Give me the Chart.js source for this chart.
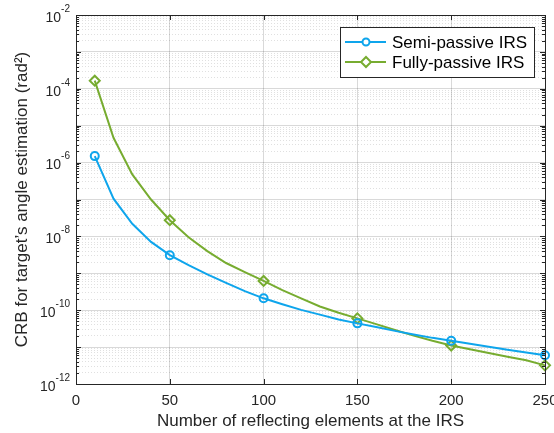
<!DOCTYPE html>
<html>
<head>
<meta charset="utf-8">
<script src="https://cdn.jsdelivr.net/npm/chart.js@4"></script>
<style>
  html, body { margin: 0; padding: 0; background: #fff; }
  #wrap { width: 554px; height: 433px; }
</style>
</head>
<body>
<div id="wrap"><canvas id="crbChart" width="554" height="433"></canvas></div>
<script>
// number of reflecting elements at the IRS
const nElements = [10, 20, 30, 40, 50, 60, 70, 80, 90, 100, 110, 120, 130, 140, 150, 160, 170, 180, 190, 200, 210, 220, 230, 240, 250];
// CRB values (rad^2)
const semiPassive = [1.5e-6, 1.05e-7, 2.2e-8, 7.1e-9, 3.1e-9, 1.66e-9, 9.3e-10, 5.5e-10, 3.3e-10, 2.1e-10, 1.45e-10, 1.02e-10, 7.6e-11, 5.6e-11, 4.4e-11, 3.5e-11, 2.75e-11, 2.2e-11, 1.78e-11, 1.48e-11, 1.23e-11, 1.02e-11, 8.5e-12, 7.1e-12, 6.0e-12];
const fullyPassive = [1.66e-4, 4.7e-6, 4.8e-7, 1.0e-7, 2.75e-8, 9.5e-9, 4.0e-9, 1.9e-9, 1.07e-9, 6.2e-10, 3.5e-10, 2.1e-10, 1.26e-10, 8.5e-11, 6.0e-11, 4.2e-11, 2.9e-11, 2.05e-11, 1.48e-11, 1.1e-11, 8.7e-12, 6.9e-12, 5.5e-12, 4.4e-12, 3.2e-12];
// x positions where markers are shown
const markerN = [10, 50, 100, 150, 200, 250];
const xTicks = [0, 50, 100, 150, 200, 250];
const yExponents = [-12, -10, -8, -6, -4, -2];

const FONT = "'Liberation Sans', Arial, sans-serif";
const BLUE = '#0ea5ec';
const GREEN = '#77ac30';

function isDecade(v) {
    const l = Math.log10(v);
    return Math.abs(l - Math.round(l)) < 1e-6;
}

function toPoints(ys) {
    return nElements.map((n, i) => ({ x: n, y: ys[i] }));
}

// log ticks: every 1..9 x 10^k between 1e-12 and 1e-2
const logTicks = [];
for (let k = -12; k < -2; k++) {
    for (let m = 1; m < 10; m++) logTicks.push(m * Math.pow(10, k));
}
logTicks.push(1e-2);

// frame, inner tick marks and y tick labels with superscripts
const framePlugin = {
    id: 'frame',
    afterDraw(chart) {
        const { ctx, chartArea: a, scales } = chart;
        const xs = scales.x, ys = scales.y;
        ctx.save();
        ctx.strokeStyle = '#262626';
        ctx.lineWidth = 1;
        ctx.beginPath();
        xTicks.forEach(v => {
            const px = Math.round(xs.getPixelForValue(v)) + 0.5;
            ctx.moveTo(px, a.bottom); ctx.lineTo(px, a.bottom - 5);
            ctx.moveTo(px, a.top); ctx.lineTo(px, a.top + 5);
        });
        logTicks.forEach(v => {
            const py = Math.round(ys.getPixelForValue(v)) + 0.5;
            const len = isDecade(v) ? 5 : 3;
            ctx.moveTo(a.left, py); ctx.lineTo(a.left + len, py);
            ctx.moveTo(a.right, py); ctx.lineTo(a.right - len, py);
        });
        ctx.stroke();
        ctx.strokeRect(Math.round(a.left) + 0.5, Math.round(a.top) + 0.5,
            Math.round(a.right - a.left), Math.round(a.bottom - a.top));

        ctx.fillStyle = '#262626';
        ctx.textBaseline = 'middle';
        ctx.textAlign = 'right';
        const rightX = a.left - 6;
        yExponents.forEach(e => {
            const py = ys.getPixelForValue(Math.pow(10, e));
            const expText = '-' + Math.abs(e);
            ctx.font = '10px ' + FONT;
            const w = ctx.measureText(expText).width;
            ctx.fillText(expText, rightX, py - 6);
            ctx.font = '14px ' + FONT;
            ctx.fillText('10', rightX - w, py + 3);
        });
        ctx.restore();
    }
};

// legend box in the upper right corner
const legendPlugin = {
    id: 'boxLegend',
    afterDraw(chart) {
        const { ctx } = chart;
        const x0 = 340, y0 = 27, w = 194, h = 50;
        ctx.save();
        ctx.fillStyle = '#fff';
        ctx.fillRect(x0, y0, w, h);
        ctx.strokeStyle = '#262626';
        ctx.lineWidth = 1;
        ctx.strokeRect(x0 + 0.5, y0 + 0.5, w, h);
        chart.data.datasets.forEach((ds, i) => {
            const cy = 42 + i * 20;
            ctx.strokeStyle = ds.borderColor;
            ctx.lineWidth = 2;
            ctx.beginPath();
            ctx.moveTo(345, cy); ctx.lineTo(386, cy);
            ctx.stroke();
            ctx.beginPath();
            if (ds.pointStyle === 'rectRot') {
                ctx.moveTo(366, cy - 5); ctx.lineTo(371, cy);
                ctx.lineTo(366, cy + 5); ctx.lineTo(361, cy);
                ctx.closePath();
            } else {
                ctx.arc(366, cy, 3.5, 0, Math.PI * 2);
            }
            ctx.fillStyle = '#fff';
            ctx.fill();
            ctx.stroke();
            ctx.fillStyle = '#000';
            ctx.font = '17px ' + FONT;
            ctx.textAlign = 'left';
            ctx.textBaseline = 'middle';
            ctx.fillText(ds.label, 392, cy + 1);
        });
        ctx.restore();
    }
};

const markerRadius = r => (c => (c.raw && markerN.includes(c.raw.x)) ? r : 0);

new Chart(document.getElementById('crbChart').getContext('2d'), {
    type: 'line',
    data: {
        datasets: [{
            label: 'Semi-passive IRS',
            data: toPoints(semiPassive),
            borderColor: BLUE,
            backgroundColor: BLUE,
            borderWidth: 2,
            pointStyle: 'circle',
            pointRadius: markerRadius(4),
            pointBorderWidth: 2,
            pointBackgroundColor: 'rgba(255,255,255,0)',
            tension: 0,
            clip: false
        }, {
            label: 'Fully-passive IRS',
            data: toPoints(fullyPassive),
            borderColor: GREEN,
            backgroundColor: GREEN,
            borderWidth: 2,
            pointStyle: 'rectRot',
            pointRadius: markerRadius(5),
            pointBorderWidth: 2,
            pointBackgroundColor: 'rgba(255,255,255,0)',
            tension: 0,
            clip: false
        }]
    },
    options: {
        responsive: false,
        animation: false,
        layout: { padding: { left: 0, right: 9, top: 15, bottom: 0 } },
        plugins: {
            legend: { display: false },
            tooltip: { enabled: false }
        },
        scales: {
            x: {
                type: 'linear',
                min: 0,
                max: 250,
                afterBuildTicks: s => { s.ticks = xTicks.map(v => ({ value: v })); },
                afterFit: s => { s.height = 49; s.paddingLeft = 0; s.paddingRight = 0; },
                grid: { color: 'rgba(0,0,0,0.15)', drawTicks: false },
                border: { display: false },
                ticks: {
                    padding: 8,
                    color: '#262626',
                    font: { family: FONT, size: 15 }
                },
                title: {
                    display: true,
                    text: 'Number of reflecting elements at the IRS',
                    color: '#262626',
                    font: { family: FONT, size: 17 },
                    padding: { top: 0, bottom: 1 }
                }
            },
            y: {
                type: 'logarithmic',
                min: 1e-12,
                max: 1e-2,
                afterBuildTicks: s => { s.ticks = logTicks.map(v => ({ value: v })); },
                afterFit: s => { s.width = 76; s.paddingTop = 0; s.paddingBottom = 0; },
                grid: {
                    drawTicks: false,
                    color: c => (c.tick && isDecade(c.tick.value)) ? 'rgba(0,0,0,0.15)' : 'rgba(0,0,0,0.12)'
                },
                border: {
                    display: false,
                    dash: c => (c.tick && !isDecade(c.tick.value)) ? [1, 2] : []
                },
                ticks: { display: false },
                title: {
                    display: true,
                    text: 'CRB for target\u2019s angle estimation (rad\u00b2)',
                    color: '#262626',
                    font: { family: FONT, size: 17 },
                    padding: { top: 12, bottom: 0 }
                }
            }
        }
    },
    plugins: [framePlugin, legendPlugin]
});
</script>
</body>
</html>
